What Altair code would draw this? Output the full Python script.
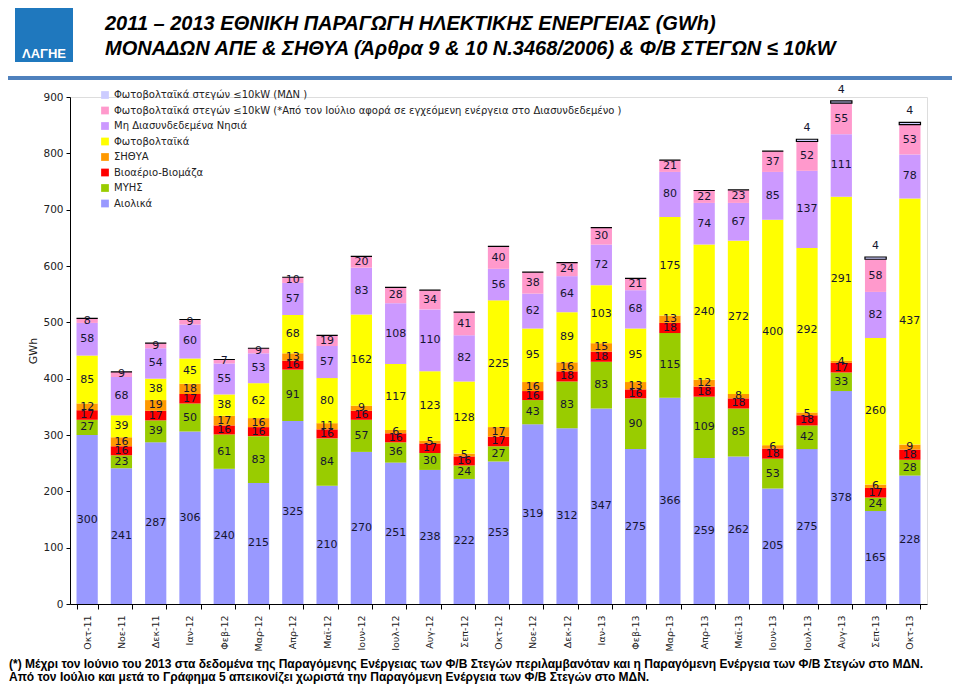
import altair as alt
import pandas as pd

months = ["Οκτ-11","Νοε-11","Δεκ-11","Ιαν-12","Φεβ-12","Μαρ-12","Απρ-12","Μαϊ-12",
          "Ιουν-12","Ιουλ-12","Αυγ-12","Σεπ-12","Οκτ-12","Νοε-12","Δεκ-12","Ιαν-13",
          "Φεβ-13","Μαρ-13","Απρ-13","Μαϊ-13","Ιουν-13","Ιουλ-13","Αυγ-13","Σεπ-13","Οκτ-13"]

wind   = [300,241,287,306,240,215,325,210,270,251,238,222,253,319,312,347,275,366,259,262,205,275,378,165,228]
hydro  = [27,23,39,50,61,83,91,84,57,36,30,24,27,43,83,83,90,115,109,85,53,42,33,24,28]
bio    = [17,16,17,17,16,16,16,16,16,16,17,16,17,16,18,18,16,18,18,18,18,18,17,17,18]
chp    = [12,16,19,18,17,16,13,11,9,6,5,5,17,16,16,15,13,13,12,8,6,5,4,6,9]
pv     = [85,39,38,45,38,62,68,80,162,117,123,128,225,95,89,103,95,175,240,272,400,292,291,260,437]
islands= [58,68,54,60,55,53,57,57,83,108,110,82,56,62,64,72,68,80,74,67,85,137,111,82,78]
roof   = [8,9,9,9,7,9,10,19,20,28,34,41,40,38,24,30,21,21,22,23,37,52,55,58,53]
roof_mdn = [0,0,0,0,0,0,0,0,0,0,0,0,0,0,0,0,0,0,0,0,0,4,4,4,4]

names = ["Αιολικά", "ΜΥΗΣ", "Βιοαέριο-Βιομάζα", "ΣΗΘΥΑ", "Φωτοβολταϊκά",
         "Μη Διασυνδεδεμένα Νησιά",
         "Φωτοβολταϊκά στεγών ≤10kW (*Από τον Ιούλιο αφορά σε εγχεόμενη ενέργεια στο Διασυνδεδεμένο )",
         "Φωτοβολταϊκά στεγών ≤10kW (ΜΔΝ )"]
colors = ["#9999FF", "#99CC00", "#FF0000", "#FF9900", "#FFFF00", "#CC99FF", "#FF99CC", "#CCCCFF"]
series = [wind, hydro, bio, chp, pv, islands, roof, roof_mdn]

title1 = "2011 – 2013 ΕΘΝΙΚΗ ΠΑΡΑΓΩΓΗ ΗΛΕΚΤΙΚΗΣ ΕΝΕΡΓΕΙΑΣ (GWh)"
title2 = "ΜΟΝΑΔΩΝ ΑΠΕ & ΣΗΘΥΑ (Άρθρα 9 & 10 Ν.3468/2006)  & Φ/Β ΣΤΕΓΩΝ ≤ 10kW"
note1 = "(*) Μέχρι τον Ιούνιο του 2013 στα δεδομένα της Παραγόμενης Ενέργειας των Φ/Β Στεγών περιλαμβανόταν και η Παραγόμενη Ενέργεια των Φ/Β Στεγών στο ΜΔΝ."
note2 = "Από τον Ιούλιο και μετά το Γράφημα 5 απεικονίζει χωριστά την Παραγόμενη Ενέργεια των Φ/Β Στεγών στο ΜΔΝ."
logo_text = "ΛΑΓΗΕ"

rows = []
for mi, m in enumerate(months):
    base = 0
    for si, (n, s) in enumerate(zip(names, series)):
        v = s[mi]
        rows.append({"month": m, "series": n, "value": v, "ord": si,
                     "y0": base, "y1": base + v, "mid": base + v / 2,
                     "label": str(v) if v > 0 else ""})
        base += v
df = pd.DataFrame(rows)

W, H = 857, 507
xscale = alt.Scale(domain=months, paddingInner=0.38, paddingOuter=0.19)
yscale = alt.Scale(domain=[0, 900])
legend_order = names[::-1]

bars = alt.Chart(df).mark_bar().encode(
    x=alt.X("month:N", sort=months, scale=xscale,
            axis=alt.Axis(title=None, labelAngle=-90, labelFont="DejaVu Sans", labelFontSize=9.5,
                          labelColor="#222222", tickBand="extent", tickSize=5, tickColor="#000000",
                          domainColor="#000000", labelPadding=6)),
    y=alt.Y("y0:Q", scale=yscale,
            axis=alt.Axis(title="GWh", values=list(range(0, 901, 100)), grid=False,
                          labelFont="DejaVu Sans", labelFontSize=10.5, labelColor="#222222",
                          tickSize=4, tickColor="#000000", domainColor="#000000",
                          titleFont="DejaVu Sans", titleFontSize=11, titleFontWeight="normal",
                          titleColor="#222222", titlePadding=4, labelPadding=3)),
    y2="y1:Q",
    color=alt.Color("series:N", scale=alt.Scale(domain=legend_order, range=colors[::-1]),
                    legend=alt.Legend(title=None, orient="none", legendX=30, legendY=-7,
                                      symbolType="square", symbolSize=60, symbolStrokeWidth=0,
                                      labelFont="DejaVu Sans", labelFontSize=10, labelLimit=800,
                                      labelColor="#222222", rowPadding=5.5, symbolOffset=0)),
    order=alt.Order("ord:Q"),
    stroke=alt.condition(alt.datum.ord == 7, alt.value("#000000"), alt.value("transparent")),
    strokeWidth=alt.condition(alt.datum.ord == 7, alt.value(1.2), alt.value(0)),
)

labels = alt.Chart(df).transform_filter("datum.value > 0 && datum.ord < 7").mark_text(
    font="DejaVu Sans", fontSize=11, color="#151530", baseline="middle", align="center"
).encode(
    x=alt.X("month:N", sort=months, scale=xscale),
    y=alt.Y("mid:Q", scale=yscale),
    text="label:N",
)

top_labels = alt.Chart(df).transform_filter("datum.value > 0 && datum.ord == 7").mark_text(
    font="DejaVu Sans", fontSize=11, color="#151530", baseline="middle", align="center", dy=-11
).encode(
    x=alt.X("month:N", sort=months, scale=xscale),
    y=alt.Y("y1:Q", scale=yscale),
    text="label:N",
)

one = pd.DataFrame({"t1": [title1], "t2": [title2], "n1": [note1], "n2": [note2], "logo": [logo_text]})

logo_rect = alt.Chart(one).mark_rect(color="#1F78BE").encode(
    x=alt.value(-55), x2=alt.value(3), y=alt.value(-94), y2=alt.value(-35))
logo_lbl = alt.Chart(one).mark_text(font="Liberation Sans", fontSize=13, fontWeight="bold",
                                    color="white", align="center", baseline="alphabetic").encode(
    x=alt.value(-26), y=alt.value(-39), text="logo:N")
blue_rule = alt.Chart(one).mark_rule(color="#4F81BD", strokeWidth=4).encode(
    x=alt.value(-67), x2=alt.value(887), y=alt.value(-19))
t1 = alt.Chart(one).mark_text(font="Liberation Sans Narrow, Liberation Sans", fontSize=20,
                              fontWeight="bold", fontStyle="italic", align="left",
                              baseline="alphabetic", color="#000000").encode(
    x=alt.value(35), y=alt.value(-67), text="t1:N")
t2 = alt.Chart(one).mark_text(font="Liberation Sans Narrow, Liberation Sans", fontSize=20,
                              fontWeight="bold", fontStyle="italic", align="left",
                              baseline="alphabetic", color="#000000").encode(
    x=alt.value(35), y=alt.value(-42), text="t2:N")
n1 = alt.Chart(one).mark_text(font="Liberation Sans", fontSize=12, fontWeight="bold",
                              align="left", baseline="alphabetic", color="#000000").encode(
    x=alt.value(-61), y=alt.value(571), text="n1:N")
n2 = alt.Chart(one).mark_text(font="Liberation Sans", fontSize=12, fontWeight="bold",
                              align="left", baseline="alphabetic", color="#000000").encode(
    x=alt.value(-61), y=alt.value(584), text="n2:N")

chart = alt.layer(bars, labels, top_labels, logo_rect, logo_lbl, blue_rule, t1, t2, n1, n2).properties(
    width=W, height=H,
    autosize=alt.AutoSizeParams(type="none"),
    padding={"left": 62, "top": 89, "right": 25, "bottom": 81},
).configure_view(stroke=None).configure(background="white")

chart.save("out.html", embed_options={"renderer": "svg", "actions": False})
